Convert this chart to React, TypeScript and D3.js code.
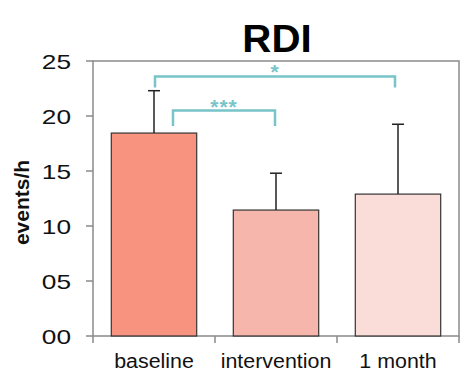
import React, { useEffect, useRef } from 'react';
import * as d3 from 'd3';

const categories = ["baseline", "intervention", "1 month"];
const means = [18.45, 11.45, 12.9];
const errors = [3.85, 3.35, 6.35];
const colors = ["#F7937F", "#F6B6AC", "#FADDD8"];
const yTicks = [0, 5, 10, 15, 20, 25];
const tickLabels = ["00", "05", "10", "15", "20", "25"];

// significance brackets: [from, to, label, y level, drop-to level]
const brackets: [number, number, string, number, number][] = [
  [0, 2, "*", 23.6, 22.6],
  [0, 1, "***", 20.5, 19.1],
];

function App() {
  const svgRef = useRef<SVGSVGElement>(null);

  const width = 471;
  const height = 383;
  const left = 93;
  const right = 459;
  const top = 61;
  const bottom = 336;

  useEffect(() => {
    const svg = d3.select(svgRef.current);
    svg.selectAll("*").remove();

    const x = d3.scaleBand().domain(categories).range([left, right]).paddingInner(0.3).paddingOuter(0.15);
    const xOuter = d3.scaleBand().domain(categories).range([left, right]);
    const y = d3.scaleLinear().domain([0, 25]).range([bottom, top]);

    const font = "'Liberation Sans', Arial, sans-serif";

    // frame
    svg.append("rect")
      .attr("x", left).attr("y", top)
      .attr("width", right - left).attr("height", bottom - top)
      .attr("fill", "none").attr("stroke", "#8a8a8a").attr("stroke-width", 1.5);

    // y axis ticks + labels
    yTicks.forEach((t, i) => {
      svg.append("line")
        .attr("x1", left - 7).attr("x2", left)
        .attr("y1", y(t)).attr("y2", y(t))
        .attr("stroke", "#8a8a8a").attr("stroke-width", 1.5);
      svg.append("text")
        .attr("transform", `translate(71,${y(t)}) scale(1.25,1)`)
        .attr("dy", "0.36em")
        .attr("text-anchor", "end")
        .attr("font-family", font).attr("font-size", 21)
        .attr("fill", "#111")
        .text(tickLabels[i]);
    });

    // x axis ticks at band edges
    const edges = categories.map(c => xOuter(c) as number).concat([right]);
    edges.forEach(e => {
      svg.append("line")
        .attr("x1", e).attr("x2", e)
        .attr("y1", bottom).attr("y2", bottom + 7)
        .attr("stroke", "#8a8a8a").attr("stroke-width", 1.5);
    });

    // bars
    svg.selectAll(".bar")
      .data(means)
      .join("rect")
      .attr("class", "bar")
      .attr("x", (d, i) => x(categories[i]) as number)
      .attr("y", d => y(d))
      .attr("width", x.bandwidth())
      .attr("height", d => y(0) - y(d))
      .attr("fill", (d, i) => colors[i])
      .attr("stroke", "#333")
      .attr("stroke-width", 1.2);

    // error bars (upper only)
    means.forEach((m, i) => {
      const cx = (x(categories[i]) as number) + x.bandwidth() / 2;
      svg.append("line")
        .attr("x1", cx).attr("x2", cx)
        .attr("y1", y(m)).attr("y2", y(m + errors[i]))
        .attr("stroke", "#222").attr("stroke-width", 1.5);
      svg.append("line")
        .attr("x1", cx - 6).attr("x2", cx + 6)
        .attr("y1", y(m + errors[i])).attr("y2", y(m + errors[i]))
        .attr("stroke", "#222").attr("stroke-width", 1.5);
    });

    // significance brackets
    brackets.forEach(([a, b, label, lvl, drop]) => {
      const ca = (x(categories[a]) as number) + x.bandwidth() / 2;
      const cb = (x(categories[b]) as number) + x.bandwidth() / 2;
      const x1 = a === 0 && b === 1 ? ca + 19 : ca + 1;
      const x2 = a === 0 && b === 1 ? cb - 1 : cb - 3;
      svg.append("path")
        .attr("d", `M${x1},${y(drop)}V${y(lvl)}H${x2}V${y(drop)}`)
        .attr("fill", "none")
        .attr("stroke", "#78C4C9")
        .attr("stroke-width", 2.5);
      svg.append("text")
        .attr("x", (x1 + x2) / 2)
        .attr("y", y(lvl) + 3)
        .attr("text-anchor", "middle")
        .attr("font-family", font).attr("font-size", 21).attr("font-weight", "bold")
        .attr("letter-spacing", 1)
        .attr("fill", "#78C4C9")
        .text(label);
    });

    // x labels
    categories.forEach(c => {
      svg.append("text")
        .attr("transform", `translate(${(xOuter(c) as number) + xOuter.bandwidth() / 2},368) scale(1.07,1)`)
        .attr("text-anchor", "middle")
        .attr("font-family", font).attr("font-size", 20)
        .attr("fill", "#111")
        .text(c);
    });

    // y label
    svg.append("text")
      .attr("transform", `translate(29,${(top + bottom) / 2 + 4}) rotate(-90)`)
      .attr("text-anchor", "middle")
      .attr("font-family", font).attr("font-size", 21).attr("font-weight", "bold")
      .attr("fill", "#111")
      .text("events/h");

    // title
    svg.append("text")
      .attr("transform", "translate(277,52) scale(1.06,1)")
      .attr("text-anchor", "middle")
      .attr("font-family", font).attr("font-size", 38).attr("font-weight", "bold")
      .attr("fill", "#000")
      .text("RDI");
  }, []);

  return (
    <svg ref={svgRef} width={width} height={height} style={{ position: "absolute", left: 0, top: 0 }} />
  );
}

export default App;
